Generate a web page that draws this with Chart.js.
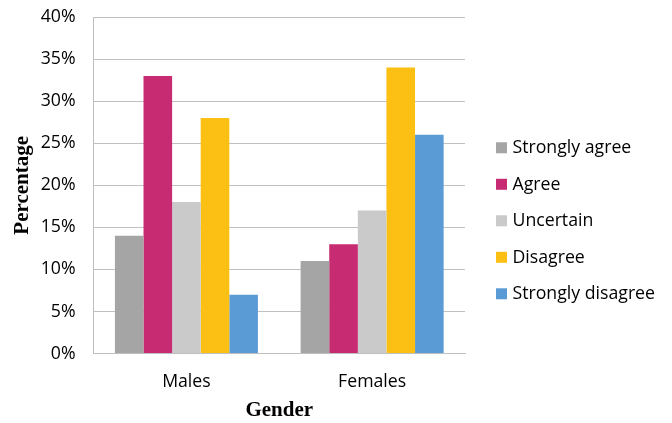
<!DOCTYPE html>
<html>
<head>
<meta charset="utf-8">
<script src="https://cdn.jsdelivr.net/npm/chart.js@4.4.1/dist/chart.umd.min.js"></script>
<style>
  html, body { margin: 0; padding: 0; background: #ffffff; }
  #wrap { width: 672px; height: 423px; }
</style>
</head>
<body>
<div id="wrap"><canvas id="chart" width="672" height="423"></canvas></div>
<script>
// Survey responses by gender (percent of respondents)
const categories = ['Males', 'Females'];
const responseLabels = ['Strongly agree', 'Agree', 'Uncertain', 'Disagree', 'Strongly disagree'];
const stronglyAgree = [14, 11];
const agree = [33, 13];
const uncertain = [18, 17];
const disagree = [28, 34];
const stronglyDisagree = [7, 26];
const yTicks = [0, 5, 10, 15, 20, 25, 30, 35, 40];

const seriesValues = [stronglyAgree, agree, uncertain, disagree, stronglyDisagree];
const seriesColors = ['#a5a5a5', '#c72b72', '#cacaca', '#fcbf14', '#5b9bd5'];

const tickFont = { family: '"Open Sans", "Noto Sans", sans-serif', size: 17.7 };
const titleFont = { family: '"Liberation Serif", "Times New Roman", serif', size: 21, weight: 'bold' };
const invisible = 'rgba(0,0,0,0)';

// Legend to the right of the plot: one square swatch and label per dataset
const sideLegend = {
  id: 'sideLegend',
  afterDraw(chart) {
    const { ctx, chartArea } = chart;
    const sets = chart.data.datasets;
    const rowGap = 36.5;
    const box = 11;
    const x = chartArea.right + 31;
    const midY = (chartArea.top + chartArea.bottom) / 2 + 35.5;
    const firstY = midY - rowGap * (sets.length - 1) / 2;
    ctx.save();
    ctx.font = `${tickFont.size}px ${tickFont.family}`;
    ctx.textBaseline = 'middle';
    ctx.textAlign = 'left';
    sets.forEach((ds, i) => {
      const cy = firstY + i * rowGap;
      ctx.fillStyle = ds.backgroundColor;
      ctx.fillRect(x, cy - box / 2, box, box);
      ctx.fillStyle = '#000000';
      ctx.fillText(ds.label, x + 16.5, cy + 0.5);
    });
    ctx.restore();
  }
};

function drawChart() {
  new Chart(document.getElementById('chart'), {
    type: 'bar',
    data: {
      labels: categories,
      datasets: responseLabels.map((name, i) => ({
        label: name,
        data: seriesValues[i],
        backgroundColor: seriesColors[i],
        borderWidth: 0,
        barPercentage: 1.0,
        categoryPercentage: 0.77
      }))
    },
    options: {
      responsive: false,
      animation: false,
      devicePixelRatio: 1,
      layout: { padding: { top: 17, left: 9.5, right: 207, bottom: 0 } },
      plugins: {
        tooltip: { enabled: false },
        legend: { display: false }
      },
      scales: {
        x: {
          grid: { color: invisible, drawTicks: true, tickLength: 18, tickColor: invisible },
          border: { color: '#bfbfbf', width: 1 },
          ticks: { color: '#000000', font: tickFont, padding: 0, maxRotation: 0 },
          title: { display: true, text: 'Gender', color: '#000000', font: titleFont, padding: { top: 5, bottom: 0 } }
        },
        y: {
          min: 0,
          max: 40,
          afterBuildTicks: (axis) => { axis.ticks = yTicks.map(v => ({ value: v })); },
          grid: { color: '#c0c0c0', drawTicks: true, tickLength: 18, tickColor: invisible },
          border: { color: '#bfbfbf', width: 1 },
          ticks: { color: '#000000', font: tickFont, padding: 0, callback: (v) => v + '%' },
          title: { display: true, text: 'Percentage', color: '#000000', font: titleFont, padding: { top: 0, bottom: 6 } }
        }
      }
    },
    plugins: [sideLegend]
  });
}

// make sure the label fonts are ready before text is measured
Promise.all([
  document.fonts.load('17.7px "Open Sans"'),
  document.fonts.load('bold 21px "Liberation Serif"')
]).then(drawChart, drawChart);
</script>
</body>
</html>
